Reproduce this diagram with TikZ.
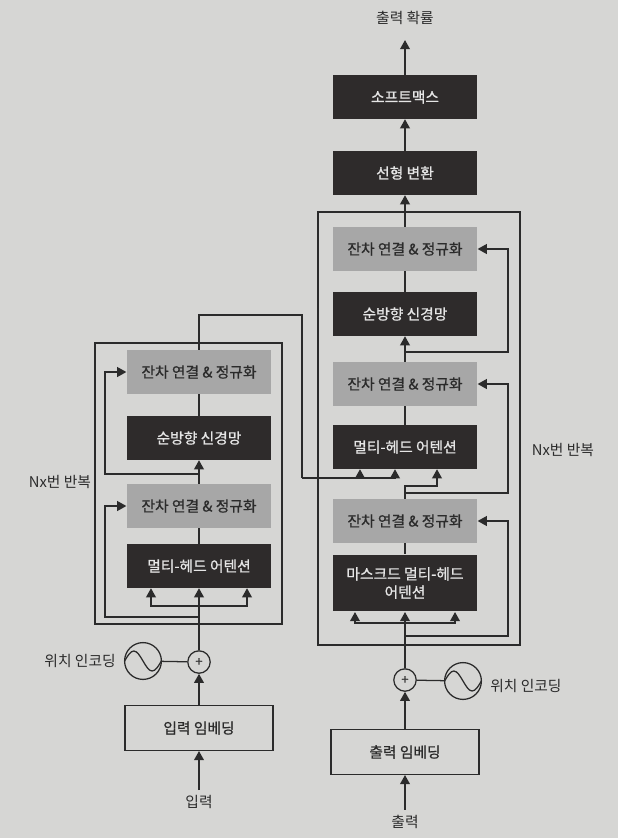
\documentclass[tikz,border=0pt]{standalone}
\usepackage{fontspec}
\setmainfont{Noto Sans CJK KR}
\newfontfamily\boxfont{Noto Sans CJK KR}[FakeBold=0.9]
\usetikzlibrary{arrows.meta}
\definecolor{paper}{HTML}{D6D6D4}
\definecolor{boxdark}{HTML}{2E2B2B}
\definecolor{boxgrey}{HTML}{A7A7A7}
\definecolor{ink}{HTML}{2B2B2B}
\begin{document}
\begin{tikzpicture}[x=0.025cm,y=-0.025cm,color=ink,line width=0.9pt,
    font=\fontsize{10.5}{13}\selectfont,
    blk/.style={minimum width=3.6cm,minimum height=1.08cm,inner sep=2pt,align=center,
      font=\fontsize{10.5}{13}\boxfont},
    dark/.style={blk,fill=boxdark,text=white!90!black},
    norm/.style={blk,fill=boxgrey,text=ink},
    embed/.style={blk,draw,minimum width=3.7cm,minimum height=1.12cm},
    plus/.style={circle,draw,minimum size=0.56cm,inner sep=0pt,font=\fontsize{9}{9}\boxfont},
    wave/.style={circle,draw,minimum size=0.92cm,inner sep=0pt,
      path picture={\draw ([xshift=-0.46cm]path picture bounding box.center)
        sin ++(0.23cm,0.25cm) cos ++(0.23cm,-0.25cm)
        sin ++(0.23cm,-0.25cm) cos ++(0.23cm,0.25cm);}},
    arr/.style={-{Triangle[width=7pt,length=6.5pt]}}]
  \fill[paper] (0,0) rectangle (618,838);
  \useasboundingbox (0,0) rectangle (618,838);

  % encoder
  \draw (95,343) rectangle (282,624);
  \node[norm] (enorm2) at (199,372) {잔차 연결 \& 정규화};
  \node[dark] (effn) at (199,438) {순방향 신경망};
  \node[norm] (enorm1) at (199,506) {잔차 연결 \& 정규화};
  \node[dark] (emha) at (199,566) {멀티-헤드 어텐션};
  \node[plus] (eplus) at (199,662) {+};
  \node[wave] (epos) at (143,661) {};
  \node[anchor=east] (eposlbl) at (121,661) {위치 인코딩};
  \node[embed] (eemb) at (199,728) {입력 임베딩};
  \node (ein) at (199,802) {입력};
  \node (erep) at (60,482) {Nx번 반복};
  \coordinate (ebranch) at (199,606);
  \coordinate (eres1) at (199,617);
  \coordinate (eres2) at (199,474);

  % decoder
  \draw (318,212) rectangle (520,645);
  \node (prob) at (405,18) {출력 확률};
  \node[dark] (softmax) at (405,97) {소프트맥스};
  \node[dark] (linear) at (405,173) {선형 변환};
  \node[norm] (dnorm3) at (405,249) {잔차 연결 \& 정규화};
  \node[dark] (dffn) at (405,314) {순방향 신경망};
  \node[norm] (dnorm2) at (405,384) {잔차 연결 \& 정규화};
  \node[dark] (dmha) at (405,447) {멀티-헤드 어텐션};
  \node[norm] (dnorm1) at (405,521) {잔차 연결 \& 정규화};
  \node[dark,minimum height=1.42cm] (dmmha) at (405,583) {마스크드 멀티-헤드\\어텐션};
  \node[plus] (dplus) at (405,680) {+};
  \node[wave] (dpos) at (463,681) {};
  \node[anchor=west] (dposlbl) at (485,686) {위치 인코딩};
  \node[embed] (demb) at (405,752) {출력 임베딩};
  \node (dout) at (405,822) {출력};
  \node (drep) at (563,450) {Nx번 반복};
  \coordinate (dbranch) at (405,623);
  \coordinate (dres1) at (405,636);
  \coordinate (dres2) at (405,493);
  \coordinate (dres3) at (405,352);
  \coordinate (kv) at (302,478);

  % encoder wiring
  \draw[arr] (ein) -- (eemb);
  \draw[arr] (eemb) -- (eplus);
  \draw (epos) -- (eplus);
  \draw[arr] (eplus) -- (emha);
  \draw[arr] (ebranch) -| ([xshift=-1.2cm]emha.south);
  \draw[arr] (ebranch) -| ([xshift=1.2cm]emha.south);
  \draw[arr] (eres1) -- (105,617) |- (enorm1.west);
  \draw (emha) -- (enorm1);
  \draw[arr] (enorm1) -- (effn);
  \draw[arr] (eres2) -- (105,474) |- (enorm2.west);
  \draw (effn) -- (enorm2);
  \draw (enorm2.north) |- (302,315) -- (kv);

  % decoder wiring
  \draw[arr] (dout) -- (demb);
  \draw[arr] (demb) -- (dplus);
  \draw (dpos) -- (dplus);
  \draw[arr] (dplus) -- (dmmha);
  \draw[arr] (dbranch) -| ([xshift=-1.25cm]dmmha.south);
  \draw[arr] (dbranch) -| ([xshift=1.25cm]dmmha.south);
  \draw[arr] (dres1) -- (508,636) |- (dnorm1.east);
  \draw (dmmha) -- (dnorm1);
  \draw[arr] (dnorm1.north) -- (405,486) -| ([xshift=0.8cm]dmha.south);
  \draw[arr] (kv) -| ([xshift=-1.125cm]dmha.south);
  \draw[arr] (kv) -| ([xshift=-0.25cm]dmha.south);
  \draw[arr] (dres2) -- (508,493) |- (dnorm2.east);
  \draw (dmha) -- (dnorm2);
  \draw[arr] (dnorm2) -- (dffn);
  \draw[arr] (dres3) -- (508,352) |- (dnorm3.east);
  \draw (dffn) -- (dnorm3);
  \draw[arr] (dnorm3) -- (linear);
  \draw[arr] (linear) -- (softmax);
  \draw[arr,shorten >=0.25cm] (softmax) -- (prob);
\end{tikzpicture}
\end{document}
